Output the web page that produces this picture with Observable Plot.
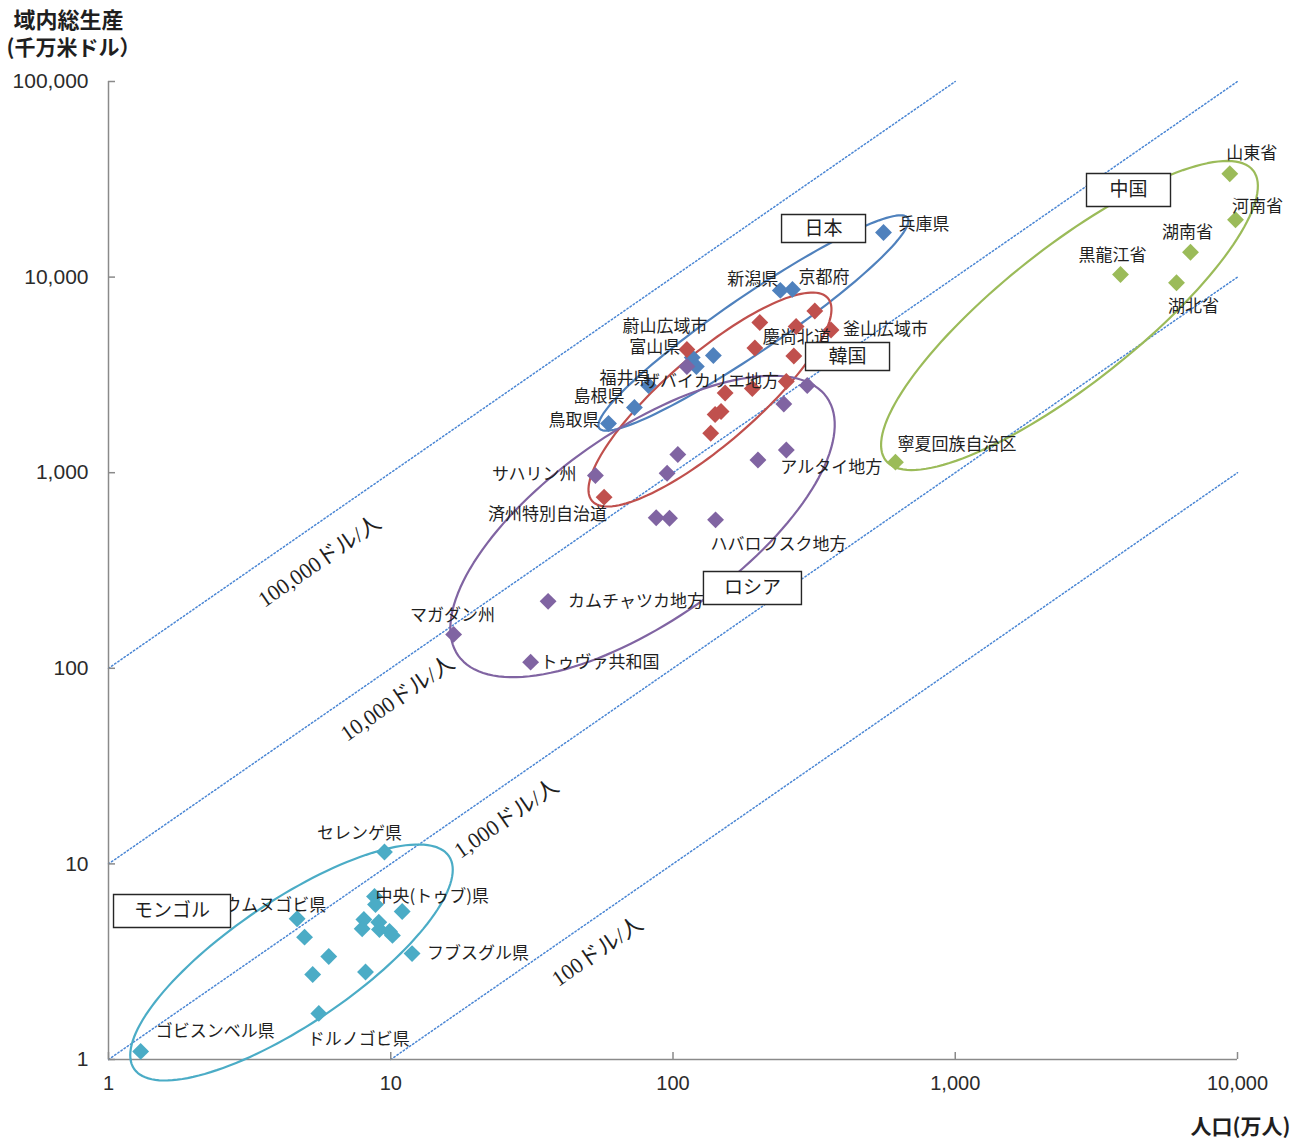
<!DOCTYPE html>
<html lang="ja">
<head>
<meta charset="utf-8">
<script src="https://cdn.jsdelivr.net/npm/d3@7"></script>
<script src="https://cdn.jsdelivr.net/npm/@observablehq/plot@0.6"></script>
<style>
  html, body { margin: 0; padding: 0; background: #fff; }
  #chart svg { display: block; }
</style>
</head>
<body>
<div id="chart"></div>
<script>
// Regions: [name, population (万人), gross regional product (千万米ドル)]
// An empty name marks a region drawn without a text label.
const japan = [
  ["兵庫県", 557, 16900],
  ["京都府", 265, 8650],
  ["新潟県", 240, 8550],
  ["", 139, 3975],
  ["富山県", 117, 3880],
  ["", 121, 3490],
  ["福井県", 81.9, 2790],
  ["島根県", 73, 2155],
  ["鳥取県", 59.1, 1785]
];
const korea = [
  ["", 318, 6710],
  ["", 203, 5860],
  ["", 273, 5590],
  ["釜山広域市", 363, 5365],
  ["", 195, 4340],
  ["蔚山広域市", 112, 4265],
  ["慶尚北道", 268, 3950],
  ["", 252, 2925],
  ["", 191, 2695],
  ["", 153, 2555],
  ["", 148, 2055],
  ["", 141, 1985],
  ["", 136, 1590],
  ["済州特別自治道", 57, 750]
];
const russia = [
  ["ザバイカリエ地方", 112, 3490],
  ["", 299, 2790],
  ["", 247, 2245],
  ["アルタイ地方", 252, 1306],
  ["", 104, 1239],
  ["", 200, 1161],
  ["", 95.3, 994],
  ["サハリン州", 53.1, 967],
  ["", 87.2, 588],
  ["", 97.2, 585],
  ["ハバロフスク地方", 141.5, 574],
  ["カムチャツカ地方", 36.1, 220],
  ["マガダン州", 16.7, 149],
  ["トゥヴァ共和国", 31.3, 107.5]
];
const china = [
  ["山東省", 9390, 33740],
  ["河南省", 9840, 19630],
  ["湖南省", 6815, 13400],
  ["黒龍江省", 3850, 10310],
  ["湖北省", 6080, 9350],
  ["寧夏回族自治区", 614, 1132]
];
const mongolia = [
  ["セレンゲ県", 9.5, 11.5],
  ["中央(トゥブ)県", 8.76, 6.81],
  ["", 8.83, 6.2],
  ["", 10.98, 5.71],
  ["ウムヌゴビ県", 4.66, 5.24],
  ["", 8.03, 5.2],
  ["", 9.07, 5.03],
  ["", 7.92, 4.66],
  ["", 9.12, 4.62],
  ["", 9.9, 4.51],
  ["", 10.14, 4.31],
  ["", 4.95, 4.22],
  ["フブスグル県", 11.9, 3.48],
  ["", 6.03, 3.36],
  ["", 8.14, 2.8],
  ["", 5.29, 2.72],
  ["ドルノゴビ県", 5.56, 1.72],
  ["ゴビスンベル県", 1.3, 1.1]
];

const countries = ["日本", "韓国", "ロシア", "中国", "モンゴル"];
const countryRows = [japan, korea, russia, china, mongolia];
const countryColors = ["#4F81BD", "#C0504D", "#8064A2", "#9BBB59", "#4BACC6"];

const xTicks = [1, 10, 100, 1000, 10000];
const yTicks = [1, 10, 100, 1000, 10000, 100000];

// GDP per capita reference lines (US$ per person) and the population span each covers
const perCapitaValues = [100000, 10000, 1000, 100];
const perCapitaLabels = ["100,000ドル/人", "10,000ドル/人", "1,000ドル/人", "100ドル/人"];
const perCapitaSpans = [[1, 1000], [1, 10000], [1, 10000], [10, 10000]];

// ---- annotation layout -------------------------------------------------
// where each per-capita label sits (population, product)
const perCapitaLabelAt = [[5.59, 352], [10.57, 70.1], [25.7, 17.07], [54.0, 3.566]];

// text placement for labelled regions: [textAnchor, dx, dy]
const labelPlacement = {
  "兵庫県": ["start", 15, -8],
  "京都府": ["start", 6, -12],
  "新潟県": ["end", -2, -11],
  "富山県": ["end", -12, -10],
  "福井県": ["end", 2, -7],
  "島根県": ["end", -10, -11],
  "鳥取県": ["end", -9, -3],
  "蔚山広域市": ["middle", -22, -23],
  "釜山広域市": ["start", 12, 0],
  "慶尚北道": ["middle", 3, -18],
  "済州特別自治道": ["end", 3, 17],
  "ザバイカリエ地方": ["middle", 24, 15],
  "アルタイ地方": ["start", -6, 18],
  "サハリン州": ["end", -19, -1],
  "ハバロフスク地方": ["start", -5, 25],
  "カムチャツカ地方": ["start", 20, 0],
  "マガダン州": ["middle", -1, -19],
  "トゥヴァ共和国": ["start", 10, 0],
  "山東省": ["middle", 22, -20],
  "河南省": ["middle", 22, -13],
  "湖南省": ["middle", -3, -20],
  "黒龍江省": ["middle", -8, -19],
  "湖北省": ["middle", 17, 24],
  "寧夏回族自治区": ["start", 2, -18],
  "セレンゲ県": ["middle", -25, -18],
  "ウムヌゴビ県": ["end", 29, -13],
  "中央(トゥブ)県": ["start", 1, 0],
  "フブスグル県": ["start", 15, 0],
  "ドルノゴビ県": ["start", -11, 26],
  "ゴビスンベル県": ["start", 15, -20]
};

// country enclosures: centre (population, product) and two conjugate
// half-axes expressed in decades of (log10 population, log10 product)
const enclosures = [
  {country: "日本", center: [192.8, 5826], u: [0.5464, 0.5379], v: [-0.0560, 0.1180]},
  {country: "韓国", center: [135.2, 2366], u: [0.4177, 0.5184], v: [-0.1040, 0.1744]},
  {country: "ロシア", center: [78.0, 531], u: [0.6530, 0.6600], v: [-0.1931, 0.3979]},
  {country: "中国", center: [2539, 6364], u: [0.6506, 0.7415], v: [-0.1493, 0.2728]},
  {country: "モンゴル", center: [4.45, 3.133], u: [0.5580, 0.5431], v: [-0.1228, 0.2628]}
];

// boxed country names: position (population, product) and box size in px
const countryTags = [
  {text: "日本", at: [341.5, 17725], w: 84, h: 28},
  {text: "韓国", at: [415.3, 3927], w: 84, h: 28},
  {text: "中国", at: [4110, 27880], w: 84, h: 33},
  {text: "ロシア", at: [191.2, 257.3], w: 98, h: 33},
  {text: "モンゴル", at: [1.679, 5.743], w: 117, h: 33}
];

// ---- build --------------------------------------------------------------
const W = 1303, H = 1142;
const M = {top: 81, right: 66, bottom: 83, left: 108};
const fontJP = '"Noto Sans CJK JP", "Noto Sans", sans-serif';
const fontNum = '"Liberation Sans", Arial, sans-serif';
const fontSerif = '"Liberation Serif", "DejaVu Serif", "Noto Sans CJK JP", serif';
const axisColor = "#8a8a8a";
const isoColor = "#4a86d4";
const ink = "#1f1f1f";

const points = countryRows.flatMap((rows, k) =>
  rows.map(([name, pop, gdp]) => ({country: countries[k], name, pop, gdp})));

const isoLines = perCapitaValues.flatMap((value, k) =>
  perCapitaSpans[k].map(pop => ({value, pop, gdp: pop * value / 1000})));

const isoLabelData = perCapitaLabels.map((text, k) =>
  ({text, pop: perCapitaLabelAt[k][0], gdp: perCapitaLabelAt[k][1]}));

const ellipsePoints = enclosures.flatMap(e => {
  const cx = Math.log10(e.center[0]), cy = Math.log10(e.center[1]);
  return d3.range(0, 145).map(k => {
    const t = 2 * Math.PI * k / 144;
    const c = Math.cos(t), s = Math.sin(t);
    return {
      country: e.country,
      pop: 10 ** (cx + c * e.u[0] + s * e.v[0]),
      gdp: 10 ** (cy + c * e.u[1] + s * e.v[1])
    };
  });
});

// angle of a 45° line in log–log space once drawn on screen
const decadeX = (W - M.left - M.right) / (Math.log10(xTicks.at(-1)) - Math.log10(xTicks[0]));
const decadeY = (H - M.top - M.bottom) / (Math.log10(yTicks.at(-1)) - Math.log10(yTicks[0]));
const isoAngle = -Math.atan2(decadeY, decadeX) * 180 / Math.PI;

const boxSymbol = (w, h) => ({draw(ctx) { ctx.rect(-w / 2, -h / 2, w, h); }});

const regionLabels = points.filter(d => d.name).map(d => {
  const [anchor, dx, dy] = labelPlacement[d.name] || ["start", 10, 0];
  return Plot.text([d], {
    x: "pop", y: "gdp", text: "name",
    textAnchor: anchor, dx, dy,
    fontFamily: fontJP, fontSize: 17, fill: ink
  });
});

const tagMarks = countryTags.flatMap(t => [
  Plot.dot([t], {
    x: d => d.at[0], y: d => d.at[1],
    symbol: boxSymbol(t.w, t.h), r: 4,
    fill: "white", stroke: "#262626", strokeWidth: 1.4
  }),
  Plot.text([t], {
    x: d => d.at[0], y: d => d.at[1], text: "text",
    fontFamily: fontJP, fontSize: 19, fill: ink
  })
]);

const chart = Plot.plot({
  width: W,
  height: H,
  marginTop: M.top,
  marginRight: M.right,
  marginBottom: M.bottom,
  marginLeft: M.left,
  style: {fontFamily: fontNum, fontSize: "20px", color: "#2b2b2b", background: "#fff"},
  x: {type: "log", domain: [xTicks[0], xTicks.at(-1)], axis: null},
  y: {type: "log", domain: [yTicks[0], yTicks.at(-1)], axis: null},
  color: {domain: countries, range: countryColors},
  marks: [
    // constant GDP-per-capita lines
    Plot.line(isoLines, {
      x: "pop", y: "gdp", z: "value",
      stroke: isoColor, strokeWidth: 1.5, strokeDasharray: "1.4,2.4"
    }),

    // axis lines with inward ticks
    Plot.ruleY([yTicks[0]], {stroke: axisColor, strokeWidth: 1.5}),
    Plot.ruleX([xTicks[0]], {stroke: axisColor, strokeWidth: 1.5}),
    Plot.ruleX(xTicks, {y1: yTicks[0], y2: yTicks[0], insetBottom: 7, stroke: axisColor, strokeWidth: 1.5}),
    Plot.ruleY(yTicks, {x1: xTicks[0], x2: xTicks[0], insetRight: -7, stroke: axisColor, strokeWidth: 1.5}),
    Plot.axisX({
      ticks: xTicks, tickFormat: d3.format(","), tickSize: 0, tickPadding: 16,
      label: null, fontFamily: fontNum, fontSize: 20
    }),
    Plot.axisY({
      ticks: yTicks, tickFormat: d3.format(","), tickSize: 0, tickPadding: 20,
      label: null, fontFamily: fontNum, fontSize: 21
    }),

    // country enclosures
    Plot.line(ellipsePoints, {
      x: "pop", y: "gdp", z: "country", stroke: "country",
      strokeWidth: 2.2, curve: "linear"
    }),

    // regions
    Plot.dot(points, {x: "pop", y: "gdp", fill: "country", symbol: "diamond2", r: 7.6}),

    ...regionLabels,
    ...tagMarks,

    // per-capita labels along the dotted lines
    Plot.text(isoLabelData, {
      x: "pop", y: "gdp", text: "text", rotate: isoAngle,
      fontFamily: fontSerif, fontSize: 22, fill: ink
    }),

    // axis titles
    Plot.text(["域内総生産"], {
      text: d => d, frameAnchor: "top-left", textAnchor: "start", lineAnchor: "middle",
      dx: -95, dy: -61, fontFamily: fontJP, fontWeight: "bold", fontSize: 22, fill: ink
    }),
    Plot.text(["(千万米ドル）"], {
      text: d => d, frameAnchor: "top-left", textAnchor: "start", lineAnchor: "middle",
      dx: -102, dy: -33, fontFamily: fontJP, fontWeight: "bold", fontSize: 21, fill: ink
    }),
    Plot.text(["人口(万人)"], {
      text: d => d, frameAnchor: "bottom-right", textAnchor: "end", lineAnchor: "middle",
      dx: 53, dy: 68, fontFamily: fontJP, fontWeight: "bold", fontSize: 21, fill: ink
    })
  ]
});

document.getElementById("chart").append(chart);
</script>
</body>
</html>
